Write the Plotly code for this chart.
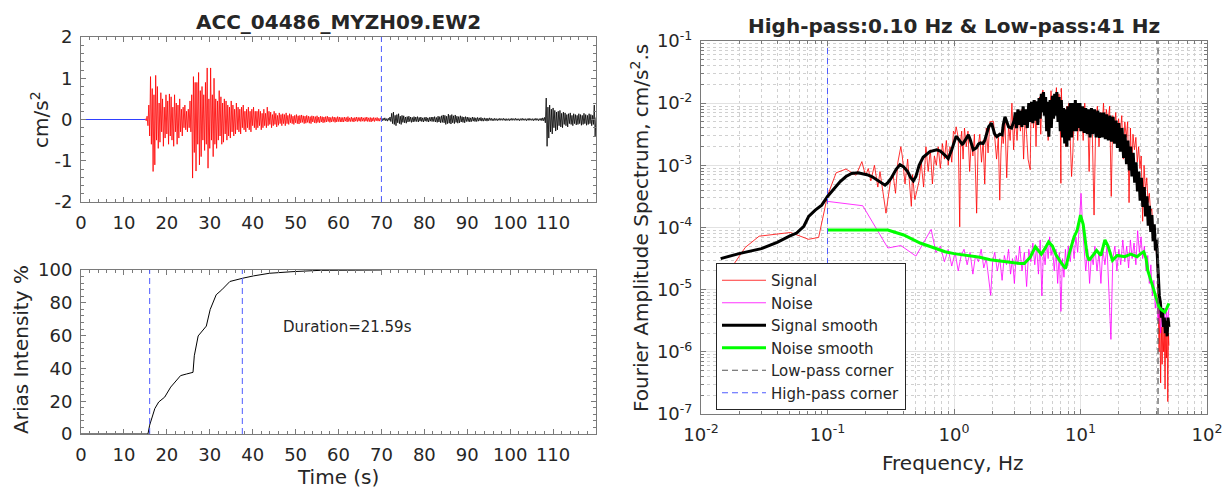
import numpy as np
import plotly.graph_objects as go

# ------------------------------------------------------------------
# Acceleration time history (cm/s^2), sampled every 0.2 s
# ------------------------------------------------------------------
sample_dt = 0.2
pre_time = [0.0, 15.0]
pre_acc = [0.0, 0.0]

signal_start = 15.0
signal_acc = [
    0.02, -0.03, 0.08, -0.15, 0.35, -0.4, 1.04, -0.6, 0.75, -1.26,
    0.6, -1.1, 1.07, -0.5, 0.8, -0.7, 0.4, -0.55, 0.65, -0.3,
    0.5, -0.65, 0.3, -0.45, 0.6, -0.35, 0.45, -0.6, 0.62, -0.4,
    0.55, -0.5, 0.3, -0.65, 0.6, -0.3, 0.4, -0.6, 0.35, -0.45,
    0.5, -0.3, 0.25, -0.4, 0.3, -0.2, 0.35, -0.25, 0.2, -0.3,
    0.25, -0.2, 0.45, -0.3, 0.6, -1.42, 1.04, -0.8, 0.9, -1.25,
    0.9, -0.6, 1.14, -1.1, 0.7, -0.9, 0.8, -0.5, 0.6, -0.75,
    0.9, -0.6, 1.25, -1.18, 0.5, -0.7, 1.25, -0.5, 0.6, -0.9,
    1.0, -0.6, 0.5, -0.7, 0.45, -0.5, 0.7, -0.4, 0.55, -0.6,
    0.4, -0.55, 0.5, -0.35, 0.45, -0.5, 0.35, -0.4, 0.3, -0.45,
    0.45, -0.3, 0.35, -0.4, 0.25, -0.35, 0.4, -0.25, 0.3, -0.3,
    0.25, -0.35, 0.3, -0.2, 0.35, -0.25, 0.2, -0.3, 0.25, -0.2,
    0.3, -0.25, 0.2, -0.3, 0.25, -0.15, 0.3, -0.2, 0.2, -0.25,
    0.2, -0.2, 0.25, -0.15, 0.2, -0.25, 0.15, -0.2, 0.25, -0.15,
    0.15, -0.2, 0.3, -0.15, 0.2, -0.12, 0.18, -0.2, 0.12, -0.15,
    0.2, -0.12, 0.15, -0.18, 0.1, -0.14, 0.16, -0.1, 0.12, -0.15,
    0.14, -0.1, 0.12, -0.15, 0.16, -0.1, 0.1, -0.12, 0.14, -0.08,
    0.12, -0.1, 0.08, -0.12, 0.1, -0.08, 0.12, -0.1, 0.09, -0.11,
    0.1, -0.08, 0.11, -0.07, 0.09, -0.1, 0.08, -0.09, 0.1, -0.07,
    0.08, -0.09, 0.07, -0.1, 0.09, -0.06, 0.08, -0.08, 0.07, -0.09,
    0.09, -0.07, 0.06, -0.08, 0.08, -0.06, 0.07, -0.08, 0.06, -0.07,
    0.07, -0.06, 0.08, -0.05, 0.06, -0.07, 0.05, -0.06, 0.07, -0.05,
    0.06, -0.07, 0.05, -0.06, 0.07, -0.05, 0.06, -0.06, 0.05, -0.06,
    0.05, -0.06, 0.06, -0.04, 0.05, -0.06, 0.07, -0.05, 0.04, -0.05,
    0.06, -0.05, 0.04, -0.06, 0.05, -0.04, 0.06, -0.05, 0.05, -0.04,
    0.05, -0.05, 0.06, -0.04, 0.04, -0.05, 0.05, -0.04, 0.06, -0.05,
    0.04, -0.05, 0.05, -0.06, 0.04, -0.04, 0.05, -0.05, 0.04, -0.03,
    0.05, -0.04, 0.03, -0.04, 0.04, -0.02,
]

coda_start = 70.0
coda_acc = [
    0.02, -0.03, 0.03, -0.02, 0.04, -0.03, 0.02, -0.04, 0.03, -0.02,
    0.06, -0.05, 0.15, -0.1, 0.18, -0.12, 0.1, -0.15, 0.12, -0.08,
    0.14, -0.1, 0.08, -0.12, 0.1, -0.07, 0.09, -0.08, 0.06, -0.09,
    0.07, -0.06, 0.08, -0.05, 0.06, -0.07, 0.05, -0.06, 0.07, -0.05,
    0.06, -0.05, 0.07, -0.06, 0.05, -0.04, 0.06, -0.05, 0.04, -0.06,
    0.05, -0.04, 0.06, -0.05, 0.04, -0.06, 0.05, -0.04, 0.06, -0.05,
    0.06, -0.05, 0.07, -0.06, 0.05, -0.07, 0.08, -0.06, 0.07, -0.08,
    0.09, -0.07, 0.11, -0.08, 0.1, -0.12, 0.08, -0.1, 0.13, -0.09,
    0.1, -0.11, 0.12, -0.08, 0.09, -0.1, 0.11, -0.07, 0.08, -0.09,
    0.07, -0.08, 0.09, -0.06, 0.07, -0.07, 0.06, -0.08, 0.07, -0.05,
    0.06, -0.05, 0.05, -0.06, 0.04, -0.05, 0.06, -0.04, 0.05, -0.05,
    0.04, -0.05, 0.05, -0.04, 0.04, -0.03, 0.05, -0.04, 0.03, -0.04,
    0.04, -0.03, 0.03, -0.04, 0.03, -0.03, 0.04, -0.02, 0.03, -0.03,
    0.02, -0.03, 0.03, -0.02, 0.02, -0.03, 0.02, -0.02, 0.03, -0.02,
    0.02, -0.02, 0.03, -0.02, 0.02, -0.03, 0.02, -0.02, 0.02, -0.03,
    0.02, -0.02, 0.03, -0.02, 0.02, -0.02, 0.03, -0.02, 0.02, -0.02,
    0.02, -0.03, 0.02, -0.02, 0.03, -0.02, 0.02, -0.02, 0.02, -0.03,
    0.02, -0.02, 0.03, -0.02, 0.02, -0.02, 0.02, -0.03, 0.02, -0.02,
    0.03, -0.02, 0.02, -0.03, 0.02, -0.02, 0.03, -0.03, 0.04, -0.03,
    0.05, -0.08, 0.52, -0.65, 0.3, -0.45, 0.35, -0.3, 0.25, -0.35,
    0.28, -0.2, 0.22, -0.28, 0.18, -0.25, 0.2, -0.15, 0.22, -0.18,
    0.15, -0.2, 0.18, -0.12, 0.16, -0.15, 0.12, -0.18, 0.14, -0.1,
    0.16, -0.12, 0.1, -0.15, 0.14, -0.1, 0.12, -0.13, 0.1, -0.12,
    0.14, -0.1, 0.12, -0.14, 0.1, -0.12, 0.15, -0.1, 0.12, -0.14,
    0.1, -0.12, 0.14, -0.1, 0.12, -0.15, 0.1, -0.12, 0.35, -0.4,
    0.05,
]

window_end = 70.0

# ------------------------------------------------------------------
# Normalised Arias intensity (%)
# ------------------------------------------------------------------
arias_time = [0.0, 15.6, 16.0, 17.2, 18.1, 19.5, 20.9, 23.2, 24.6, 26.1, 26.4,
              27.3, 29.2, 30.1, 31.5, 32.8, 34.7, 36.5, 37.7, 40.2, 43.9,
              49.4, 55.8, 70.0]
arias_pct = [0.0, 0.0, 5.4, 15.5, 19.5, 22.5, 28.6, 35.6, 36.6, 37.6, 47.7,
             59.8, 65.8, 75.9, 84.9, 87.9, 93.0, 94.4, 95.0, 96.4, 98.0,
             99.0, 99.8, 100.0]
t_5pct = 16.0
t_95pct = 37.59
duration_s = 21.59

# ------------------------------------------------------------------
# Fourier amplitude spectra (log10 of cm/s^2.s)
# ------------------------------------------------------------------
signal_freq = [
    0.0167, 0.0224, 0.0288, 0.0398, 0.051, 0.0708, 0.0851, 0.1, 0.117, 0.14, 0.168, 0.187, 0.2,
    0.21, 0.22, 0.235, 0.25, 0.26, 0.275, 0.29, 0.30, 0.315, 0.33, 0.345, 0.36, 0.38,
    0.39, 0.41, 0.43, 0.46, 0.47, 0.49, 0.51, 0.53, 0.55, 0.575, 0.60, 0.625, 0.65,
    0.675, 0.70, 0.725, 0.75, 0.78, 0.81, 0.84, 0.87, 0.90, 0.93, 0.96, 0.99,
    1.02, 1.04, 1.08, 1.11, 1.13, 1.15, 1.18, 1.21, 1.25, 1.29, 1.33, 1.37, 1.41,
    1.45, 1.51, 1.55, 1.60, 1.65, 1.70, 1.75, 1.80, 1.86, 1.92, 2.05, 2.10,
    2.17, 2.24, 2.30, 2.35, 2.40, 2.45, 2.53, 2.61, 2.70, 2.78, 2.87, 2.96,
    3.05, 3.15, 3.25, 3.35, 3.45, 3.55, 3.65, 3.75, 3.85, 4.00, 4.05, 4.15, 4.25,
    4.35, 4.45, 4.55, 4.65, 4.75, 4.85, 4.95, 5.05, 5.15, 5.25, 5.35, 5.45, 5.55,
    5.70, 5.85, 6.00, 6.15, 6.30, 6.45, 6.60, 6.75, 6.90, 7.00, 7.05, 7.20, 7.50,
    7.65, 7.80, 7.95, 8.10, 8.30, 8.50, 8.70, 8.90, 9.10, 9.30, 9.50, 9.70, 9.90,
    10.2, 10.5, 10.8, 11.1, 11.4, 11.7, 12.0, 12.4, 12.8, 13.2, 13.6, 14.0, 14.4,
    14.8, 15.2, 15.6, 16.0, 16.5, 17.0, 17.5, 18.0, 18.5, 19.0, 19.5, 20.0, 20.6,
    21.2, 21.8, 22.4, 23.0, 23.6, 24.2, 24.8, 25.4, 26.0, 26.7, 27.4, 28.1, 28.8, 29.5,
    30.2, 31.0, 31.8, 32.6, 33.4, 34.2, 35.0, 35.8, 36.6, 37.4, 38.2, 39.0, 39.8, 40.6,
    41.2, 41.8, 42.4, 43.0, 43.6, 44.2, 44.8, 45.4, 46.0, 46.6, 47.2, 47.8, 48.4, 49.0, 49.6, 50.0,
]
signal_log_amp = [
    -4.70, -4.32, -4.14, -4.11, -4.08, -4.19, -4.16, -3.49, -3.12, -3.06, -3.16, -2.94, -3.17,
    -3.05, -3.25, -3.00, -3.35, -3.10, -3.45, -3.77, -3.55, -3.25, -3.15, -3.45, -2.95, -2.70,
    -2.85, -3.30, -2.90, -3.66, -3.15, -3.55, -3.40, -3.25, -2.95, -3.35, -2.70, -3.10, -2.75,
    -3.30, -2.85, -3.00, -2.70, -3.05, -2.65, -2.90, -2.60, -3.00, -2.70, -2.95, -2.45,
    -2.50, -2.38, -2.55, -3.99, -2.60, -2.45, -2.90, -2.40, -2.70, -2.45, -3.10, -2.60, -2.85,
    -2.50, -3.77, -2.70, -2.50, -2.95, -2.60, -3.30, -2.40, -2.80, -2.30, -2.29, -2.60,
    -2.90, -2.55, -3.56, -2.80, -2.45, -2.65, -2.30, -3.20, -2.35, -2.60, -2.00, -2.75,
    -2.20, -2.60, -2.15, -2.45, -2.10, -2.90, -2.20, -2.50, -2.90, -3.07, -2.35, -2.00, -2.40,
    -1.95, -2.70, -2.05, -2.30, -1.90, -2.50, -1.85, -1.79, -2.10, -1.95, -2.40, -2.00, -2.60,
    -2.15, -1.80, -2.30, -1.90, -2.05, -1.75, -2.25, -1.85, -2.00, -3.29, -1.76, -2.35, -2.20,
    -2.70, -2.05, -2.35, -2.00, -2.50, -3.18, -2.80, -2.15, -2.40, -2.05, -2.60, -2.20, -2.45,
    -2.10, -2.60, -2.00, -2.45, -2.15, -3.10, -2.10, -2.50, -3.80, -2.30, -2.05, -2.70, -2.15,
    -2.40, -2.00, -2.55, -2.10, -2.30, -2.05, -3.50, -2.20, -2.45, -2.15, -2.60, -2.25, -2.50,
    -2.20, -2.90, -2.30, -2.55, -2.30, -3.60, -2.40, -3.10, -2.50, -2.75, -2.55, -2.95, -2.70, -3.05,
    -2.85, -3.90, -3.00, -3.40, -3.20, -3.60, -3.45, -3.75, -3.70, -4.00, -4.00, -4.30, -4.40, -4.70,
    -5.20, -6.00, -5.40, -6.50, -5.60, -6.20, -5.50, -6.00, -5.70, -6.60, -5.50, -6.10, -5.60, -6.80, -5.70, -5.90,
]

smooth_freq = [
    0.0143, 0.02, 0.03, 0.04, 0.05, 0.057, 0.065, 0.071, 0.08, 0.09, 0.1, 0.113, 0.126,
    0.14, 0.155, 0.174, 0.19, 0.205, 0.224, 0.25, 0.285, 0.30, 0.32, 0.35, 0.374, 0.398,
    0.43, 0.455, 0.477, 0.50, 0.53, 0.57, 0.645, 0.73, 0.78, 0.85, 0.90, 0.96, 1.04,
    1.06, 1.12, 1.16, 1.18, 1.25, 1.30, 1.34, 1.39, 1.42, 1.50,
    1.56, 1.62, 1.70, 1.75, 1.82, 1.88, 1.98, 2.04, 2.10, 2.18,
    2.23, 2.30, 2.40, 2.45, 2.53, 2.60, 2.70, 2.85, 2.95, 3.00,
    3.05, 3.12, 3.20, 3.28, 3.36, 3.44, 3.52, 3.60, 3.70, 3.80,
    3.90, 4.00, 4.10, 4.20, 4.30, 4.40, 4.50, 4.60, 4.70, 4.80,
    4.90, 5.00, 5.10, 5.20, 5.30, 5.40, 5.50, 5.62, 5.75, 5.88,
    6.00, 6.12, 6.25, 6.38, 6.50, 6.64, 6.78, 6.92, 7.06, 7.20,
    7.35, 7.50, 7.65, 7.80, 7.95, 8.10, 8.30, 8.50, 8.70, 8.90,
    9.10, 9.30, 9.50, 9.70, 9.90, 10.1, 10.4, 10.7, 11.0, 11.3,
    11.6, 11.9, 12.2, 12.5, 12.9, 13.3, 13.7, 14.1, 14.5, 14.9,
    15.3, 15.7, 16.1, 16.6, 17.1, 17.6, 18.1, 18.6, 19.1, 19.6,
    20.1, 20.7, 21.3, 21.9, 22.5, 23.1, 23.7, 24.3, 24.9, 25.5,
    26.1, 26.8, 27.5, 28.2, 28.9, 29.6, 30.3, 31.1, 31.9, 32.7,
    33.5, 34.3, 35.1, 35.9, 36.7, 37.5, 38.3, 39.1, 39.9, 40.6,
    41.3, 42.0, 42.8, 43.6, 44.4, 45.2, 46.0, 46.8, 47.6, 48.4, 49.2, 50.0,
]
smooth_log_amp = [
    -4.50, -4.42, -4.34, -4.24, -4.14, -4.09, -3.98, -3.82, -3.72, -3.64, -3.50, -3.37, -3.26,
    -3.18, -3.13, -3.12, -3.13, -3.15, -3.18, -3.24, -3.32, -3.28, -3.20, -3.06, -2.99, -3.02,
    -3.10, -3.20, -3.25, -3.18, -3.00, -2.87, -2.78, -2.75, -2.77, -2.84, -2.89, -2.75, -2.53,
    -2.55, -2.62, -2.66, -2.65, -2.56, -2.51, -2.58, -2.70, -2.75, -2.72,
    -2.66, -2.64, -2.65, -2.60, -2.48, -2.38, -2.32, -2.40, -2.50, -2.54,
    -2.52, -2.50, -2.51, -2.35, -2.22, -2.28, -2.38, -2.40, -2.30, -2.27,
    -2.15, -2.40, -2.10, -2.35, -2.12, -2.38, -2.05, -2.35, -2.10, -2.40,
    -2.00, -2.30, -1.98, -2.32, -1.95, -2.28, -1.97, -2.35, -1.92, -2.25,
    -1.85, -2.15, -1.82, -2.20, -1.90, -2.45, -1.98, -2.54, -1.95, -2.40,
    -1.88, -2.25, -1.85, -2.20, -1.82, -2.30, -1.90, -2.45, -1.95, -2.55,
    -2.08, -2.65, -2.10, -2.70, -2.05, -2.60, -2.00, -2.55, -2.00, -2.45,
    -1.95, -2.45, -2.00, -2.40, -2.00, -2.45, -2.05, -2.48, -2.08, -2.50,
    -2.10, -2.55, -2.08, -2.50, -2.10, -2.55, -2.12, -2.56, -2.15, -2.55,
    -2.15, -2.58, -2.18, -2.60, -2.20, -2.62, -2.22, -2.65, -2.28, -2.72,
    -2.32, -2.78, -2.40, -2.88, -2.50, -2.98, -2.60, -3.08, -2.70, -3.18,
    -2.80, -3.28, -2.95, -3.42, -3.10, -3.57, -3.20, -3.67, -3.35, -3.82,
    -3.50, -3.97, -3.65, -4.07, -3.80, -4.22, -3.95, -4.37, -4.20, -4.60,
    -4.80, -5.10, -5.20, -5.45, -5.30, -5.60, -5.45, -5.70, -5.50, -5.75, -5.45, -5.60,
]

noise_freq = [
    0.10, 0.19, 0.30, 0.38, 0.50, 0.66, 0.72, 0.78, 0.84, 0.90,
    0.96, 1.02, 1.08, 1.14, 1.20, 1.27, 1.34, 1.41, 1.48, 1.56,
    1.64, 1.72, 1.80, 1.88, 1.95, 2.02, 2.10, 2.20, 2.30, 2.40,
    2.50, 2.60, 2.70, 2.80, 2.90, 3.00, 3.10, 3.20, 3.30, 3.45,
    3.60, 3.75, 3.90, 4.05, 4.20, 4.35, 4.50, 4.65, 4.80, 4.95,
    5.10, 5.25, 5.40, 5.55, 5.70, 5.85, 6.00, 6.20, 6.40, 6.60,
    6.80, 7.00, 7.20, 7.40, 7.60, 7.80, 8.00, 8.30, 8.60, 8.90,
    9.20, 9.50, 9.80, 10.1, 10.4, 10.7, 11.0, 11.4, 11.8, 12.2,
    12.6, 13.0, 13.5, 14.0, 14.5, 15.0, 15.6, 16.2, 16.8, 17.4,
    18.0, 18.7, 19.4, 20.1, 20.8, 21.6, 22.4, 23.2, 24.0, 24.8,
    25.6, 26.5, 27.4, 28.3, 29.2, 30.1, 31.0, 32.0, 33.0, 34.0,
    35.0, 36.0, 37.0, 38.0, 39.0, 40.0, 41.0, 42.0, 43.0, 44.0,
    45.0, 46.0, 47.0, 48.0, 49.0, 50.0,
]
noise_log_amp = [
    -3.58, -3.65, -4.33, -4.29, -4.46, -4.03, -4.40, -4.30, -4.55, -4.35,
    -4.62, -4.40, -4.70, -4.45, -4.35, -4.60, -4.40, -4.75, -4.45, -4.55,
    -4.35, -4.65, -4.50, -4.80, -5.09, -4.55, -4.40, -4.70, -4.50, -4.85,
    -4.45, -4.60, -4.35, -4.75, -4.50, -4.90, -4.45, -4.60, -4.30, -4.70,
    -4.40, -4.95, -4.35, -4.55, -4.25, -4.60, -4.30, -4.75, -4.20, -5.10,
    -4.35, -4.60, -4.25, -4.50, -4.15, -4.45, -4.30, -4.70, -4.35, -4.90,
    -4.40, -5.35, -4.50, -4.80, -4.35, -4.65, -4.30, -4.55, -4.20, -4.50,
    -4.15, -4.40, -3.90, -3.45, -4.00, -4.40, -4.70, -4.35, -4.90, -4.45,
    -4.60, -4.30, -4.70, -4.40, -4.90, -4.35, -4.60, -4.30, -5.10, -5.80,
    -4.50, -4.30, -4.70, -4.35, -4.60, -4.20, -4.55, -4.30, -4.65, -4.20,
    -4.50, -4.25, -4.60, -4.05, -4.40, -4.15, -4.50, -4.30, -4.70, -4.45,
    -4.90, -4.60, -5.10, -4.85, -5.30, -5.10, -5.50, -5.30, -5.70, -5.40,
    -5.60, -5.30, -5.60, -5.35, -5.55, -5.30,
]

noise_smooth_freq = [
    0.10, 0.15, 0.20, 0.25, 0.30, 0.40, 0.54, 0.70, 0.85, 1.00,
    1.18, 1.40, 1.60, 1.93, 2.30, 2.70, 3.33, 3.60, 4.00, 4.40,
    4.60, 4.90, 5.30, 5.60, 6.00, 6.40, 7.00, 7.60, 8.20, 8.90,
    9.40, 10.0, 10.5, 10.9, 11.3, 11.7, 12.5, 13.4, 14.5, 15.6,
    16.5, 17.9, 19.5, 22.4, 25.0, 28.0, 30.0, 31.6, 33.0, 34.0,
    36.0, 38.0, 40.0, 41.7, 44.0, 46.4, 48.0, 50.0,
]
noise_smooth_log_amp = [
    -4.04, -4.04, -4.03, -4.03, -4.04, -4.12, -4.25, -4.33, -4.39, -4.42,
    -4.44, -4.46, -4.48, -4.52, -4.54, -4.56, -4.58, -4.58, -4.48, -4.31,
    -4.36, -4.43, -4.32, -4.23, -4.30, -4.44, -4.56, -4.66, -4.40, -4.15,
    -4.05, -3.80, -3.95, -4.20, -4.45, -4.53, -4.45, -4.37, -4.45, -4.20,
    -4.30, -4.53, -4.45, -4.47, -4.43, -4.47, -4.42, -4.39, -4.50, -4.69,
    -4.85, -5.01, -5.15, -5.28, -5.33, -5.36, -5.30, -5.22,
]

highpass_hz = 0.10
lowpass_hz = 41.0

# ------------------------------------------------------------------
W, H = 1232, 489
FONT = "DejaVu Sans"
TXT = "#262626"
FRAME = "#7a7a7a"
DASH_BLUE = "#4f5cff"


def px_x(p):
    return p / W


def px_y(p):
    return 1 - p / H


signal_time = signal_start + sample_dt * np.arange(len(signal_acc))
coda_time = coda_start + sample_dt * np.arange(len(coda_acc))

fig = go.Figure()

# --- top-left: acceleration
fig.add_trace(go.Scatter(x=pre_time, y=pre_acc, mode="lines",
                         line=dict(color="#2f3fff", width=1.2),
                         xaxis="x", yaxis="y", showlegend=False, hoverinfo="skip"))
fig.add_trace(go.Scatter(x=signal_time, y=signal_acc, mode="lines",
                         line=dict(color="#ff0000", width=0.8),
                         xaxis="x", yaxis="y", showlegend=False, hoverinfo="skip"))
fig.add_trace(go.Scatter(x=coda_time, y=coda_acc, mode="lines",
                         line=dict(color="#000000", width=0.8),
                         xaxis="x", yaxis="y", showlegend=False, hoverinfo="skip"))

# --- bottom-left: Arias intensity
fig.add_trace(go.Scatter(x=arias_time, y=arias_pct, mode="lines",
                         line=dict(color="#000000", width=1),
                         xaxis="x2", yaxis="y2", showlegend=False, hoverinfo="skip"))

# --- right: spectra
fig.add_trace(go.Scatter(x=signal_freq, y=np.power(10.0, signal_log_amp), mode="lines",
                         name="Signal", line=dict(color="#ff0000", width=0.8),
                         xaxis="x3", yaxis="y3"))
fig.add_trace(go.Scatter(x=noise_freq, y=np.power(10.0, noise_log_amp), mode="lines",
                         name="Noise", line=dict(color="#ff00ff", width=0.8),
                         xaxis="x3", yaxis="y3"))
fig.add_trace(go.Scatter(x=smooth_freq, y=np.power(10.0, smooth_log_amp), mode="lines",
                         name="Signal smooth", line=dict(color="#000000", width=3),
                         xaxis="x3", yaxis="y3"))
fig.add_trace(go.Scatter(x=noise_smooth_freq, y=np.power(10.0, noise_smooth_log_amp), mode="lines",
                         name="Noise smooth", line=dict(color="#00ff00", width=3),
                         xaxis="x3", yaxis="y3"))
fig.add_trace(go.Scatter(x=[lowpass_hz, lowpass_hz], y=[1e-7, 1e-1], mode="lines",
                         name="Low-pass corner",
                         line=dict(color="#555555", width=1.2, dash="6px,4px"),
                         xaxis="x3", yaxis="y3"))
fig.add_trace(go.Scatter(x=[highpass_hz, highpass_hz], y=[1e-7, 1e-1], mode="lines",
                         name="High-pass corner",
                         line=dict(color=DASH_BLUE, width=1, dash="6px,4px"),
                         xaxis="x3", yaxis="y3"))

# vertical dashed markers on left panels
shapes = []
for xv, xr, yr in [(window_end, "x", "y domain"), (t_5pct, "x2", "y2 domain"),
                   (t_95pct, "x2", "y2 domain")]:
    shapes.append(dict(type="line", xref=xr, yref=yr, x0=xv, x1=xv, y0=0, y1=1,
                       line=dict(color=DASH_BLUE, width=1, dash="6px,4px")))

tickfont = dict(family=FONT, size=18, color=TXT)


def lin_axis(**kw):
    d = dict(showline=True, linecolor=FRAME, linewidth=1, mirror="ticks",
             ticks="inside", ticklen=5, tickcolor=FRAME, tickwidth=1,
             tickfont=tickfont, zeroline=False, showgrid=False,
             ticklabelstandoff=4, automargin=False)
    d.update(kw)
    return d


left_dom = [px_x(81), px_x(596)]
time_ticks = list(range(0, 120, 10))

minor_x = [m * 10.0 ** e for e in range(-2, 2) for m in range(2, 10)]
minor_y = [m * 10.0 ** e for e in range(-7, -1) for m in range(2, 10)]
dec_x = [1e-2, 1e-1, 1e0, 1e1, 1e2]
dec_y = [1e-7, 1e-6, 1e-5, 1e-4, 1e-3, 1e-2, 1e-1]

fig.update_layout(
    width=W, height=H,
    margin=dict(l=0, r=0, t=0, b=0, pad=0, autoexpand=False),
    paper_bgcolor="white", plot_bgcolor="white",
    font=dict(family=FONT, color=TXT),
    shapes=shapes,
    xaxis=lin_axis(domain=left_dom, anchor="y", range=[0, 120],
                   tickvals=time_ticks,
                   minor=dict(dtick=2, ticks="inside", ticklen=3, tickcolor=FRAME)),
    yaxis=lin_axis(domain=[px_y(202), px_y(37)], anchor="x", range=[-2, 2],
                   tickvals=[-2, -1, 0, 1, 2], ticktext=["-2", "-1", "0", "1", "2"],
                   minor=dict(dtick=0.2, ticks="inside", ticklen=3, tickcolor=FRAME)),
    xaxis2=lin_axis(domain=left_dom, anchor="y2", range=[0, 120],
                    tickvals=time_ticks,
                    minor=dict(dtick=2, ticks="inside", ticklen=3, tickcolor=FRAME)),
    yaxis2=lin_axis(domain=[px_y(434), px_y(270)], anchor="x2", range=[0, 100],
                    tickvals=[0, 20, 40, 60, 80, 100],
                    minor=dict(dtick=4, ticks="inside", ticklen=3, tickcolor=FRAME)),
    xaxis3=lin_axis(domain=[px_x(701), px_x(1207)], anchor="y3", type="log",
                    range=[-2, 2], tickvals=dec_x,
                    ticktext=["10<sup>-2</sup>", "10<sup>-1</sup>", "10<sup>0</sup>",
                              "10<sup>1</sup>", "10<sup>2</sup>"],
                    showgrid=True, gridcolor="#e2e2e2", gridwidth=1,
                    minor=dict(tickvals=minor_x, ticks="inside", ticklen=3, tickcolor=FRAME,
                               showgrid=True, gridcolor="#d0d0d0", griddash="dot",
                               gridwidth=1)),
    yaxis3=lin_axis(domain=[px_y(414), px_y(41)], anchor="x3", type="log",
                    range=[-7, -1], tickvals=dec_y,
                    ticktext=["10<sup>-7</sup>", "10<sup>-6</sup>", "10<sup>-5</sup>",
                              "10<sup>-4</sup>", "10<sup>-3</sup>", "10<sup>-2</sup>",
                              "10<sup>-1</sup>"],
                    showgrid=True, gridcolor="#e2e2e2", gridwidth=1,
                    minor=dict(tickvals=minor_y, ticks="inside", ticklen=3, tickcolor=FRAME,
                               showgrid=True, gridcolor="#d0d0d0", griddash="dot",
                               gridwidth=1)),
    legend=dict(x=px_x(716), y=px_y(263), xanchor="left", yanchor="top",
                bgcolor="white", bordercolor="#262626", borderwidth=1,
                font=dict(family=FONT, size=15, color=TXT),
                tracegroupgap=0, itemwidth=44),
)

ann = [
    dict(text="<b>ACC_04486_MYZH09.EW2</b>", x=px_x(338), y=px_y(22),
         font=dict(size=20)),
    dict(text="<b>High-pass:0.10 Hz & Low-pass:41 Hz</b>", x=px_x(954), y=px_y(26),
         font=dict(size=20)),
    dict(text="cm/s<sup>2</sup>", x=px_x(40), y=px_y(119), textangle=-90,
         font=dict(size=20)),
    dict(text="Arias Intensity %", x=px_x(21), y=px_y(350), textangle=-90,
         font=dict(size=20)),
    dict(text="Fourier Amplitude Spectrum, cm/s<sup>2</sup>.s", x=px_x(640), y=px_y(228),
         textangle=-90, font=dict(size=20)),
    dict(text="Time (s)", x=px_x(338), y=px_y(477), font=dict(size=20)),
    dict(text="Frequency, Hz", x=px_x(953), y=px_y(463), font=dict(size=20)),
]
for a in ann:
    a.update(xref="paper", yref="paper", showarrow=False, xanchor="center", yanchor="middle")
    a["font"] = dict(family=FONT, color=TXT, **a["font"])
    fig.add_annotation(**a)

fig.add_annotation(text=f"Duration={duration_s:.2f}s", x=62, y=65, xref="x2", yref="y2",
                   showarrow=False, xanchor="center", yanchor="middle",
                   font=dict(family=FONT, size=15, color=TXT))

fig.write_html("out.html")
